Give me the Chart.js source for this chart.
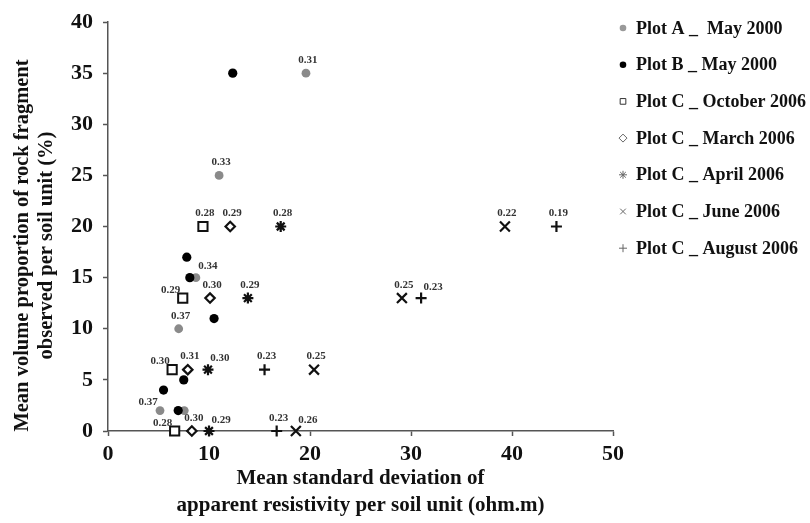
<!DOCTYPE html>
<html>
<head>
<meta charset="utf-8">
<script src="https://cdn.jsdelivr.net/npm/chart.js@4.4.1/dist/chart.umd.min.js"></script>
<style>
  html, body { margin: 0; background: #fff; }
  #wrap { width: 810px; height: 523px; }
</style>
</head>
<body>
<div id="wrap"><canvas id="chart"></canvas></div>
<script>
// ---- data ----
const seriesNames = [
  'Plot A _  May 2000',
  'Plot B _ May 2000',
  'Plot C _ October 2006',
  'Plot C _ March 2006',
  'Plot C _ April 2006',
  'Plot C _ June 2006',
  'Plot C _ August 2006'
];

const xTicks = [0, 10, 20, 30, 40, 50];
const yTicks = [0, 5, 10, 15, 20, 25, 30, 35, 40];
const xTitle = ['Mean standard deviation of', 'apparent resistivity per soil unit (ohm.m)'];
const yTitle = ['Mean volume proportion of rock fragment', 'observed per soil unit (%)'];

const plotA_x = [19.6, 11.0, 8.7, 7.0, 5.15, 7.55];
const plotA_y = [35, 25, 15, 10, 2, 2];
const plotA_labels = ['0.31', '0.33', '0.34', '0.37', '0.37', null];

const plotB_x = [12.35, 7.8, 8.1, 10.5, 7.5, 5.5, 6.95];
const plotB_y = [35, 17, 15, 11, 5, 4, 2];

const octX = [9.4, 7.4, 6.35, 6.6];
const octY = [20, 13, 6, 0];
const octLabels = ['0.28', '0.29', '0.30', '0.28'];

const marX = [12.1, 10.1, 7.9, 8.3];
const marY = [20, 13, 6, 0];
const marLabels = ['0.29', '0.30', '0.31', '0.30'];

const aprX = [17.1, 13.85, 9.9, 10.0];
const aprY = [20, 13, 6, 0];
const aprLabels = ['0.28', '0.29', '0.30', '0.29'];

const junX = [39.3, 29.1, 20.4, 18.6];
const junY = [20, 13, 6, 0];
const junLabels = ['0.22', '0.25', '0.25', '0.26'];

const augX = [44.4, 31.0, 15.5, 16.7];
const augY = [20, 13, 6, 0];
const augLabels = ['0.19', '0.23', '0.23', '0.23'];

// where each value label sits relative to its point
const labelOffsets = { n: [2, -13], nw: [-12, -8], ne: [12, -11] };
const plotA_pos = ['n', 'n', 'ne', 'n', 'nw', null];
const octPos = ['n', 'nw', 'nw', 'nw'];
const marPos = ['n', 'n', 'n', 'n'];
const aprPos = ['n', 'n', 'ne', 'ne'];
const junPos = ['n', 'n', 'n', 'ne'];
const augPos = ['n', 'ne', 'n', 'n'];

const serif = '"Liberation Serif", "Times New Roman", serif';

function pts(xs, ys) {
  return xs.map((x, i) => ({ x: x, y: ys[i] }));
}

const datasets = [
  { label: seriesNames[0], data: pts(plotA_x, plotA_y), pointLabels: plotA_labels, labelPos: plotA_pos,
    pointStyle: 'circle', pointRadius: 4.4, backgroundColor: '#8a8a8a', borderColor: '#8a8a8a', borderWidth: 0,
    order: 5, legendColor: '#999' },
  { label: seriesNames[1], data: pts(plotB_x, plotB_y),
    pointStyle: 'circle', pointRadius: 4.6, backgroundColor: '#000', borderColor: '#000', borderWidth: 0,
    order: 4, legendColor: '#000' },
  { label: seriesNames[2], data: pts(octX, octY), pointLabels: octLabels, labelPos: octPos,
    pointStyle: 'rect', pointRadius: 6.5, backgroundColor: '#fff', borderColor: '#111', borderWidth: 2,
    order: 3, legendColor: '#333' },
  { label: seriesNames[3], data: pts(marX, marY), pointLabels: marLabels, labelPos: marPos,
    pointStyle: 'rectRot', pointRadius: 4.7, backgroundColor: '#fff', borderColor: '#111', borderWidth: 2.2,
    order: 2, legendColor: '#666' },
  { label: seriesNames[4], data: pts(aprX, aprY), pointLabels: aprLabels, labelPos: aprPos,
    pointStyle: 'star', pointRadius: 5.5, backgroundColor: '#111', borderColor: '#111', borderWidth: 2.2,
    order: 1, legendColor: '#666' },
  { label: seriesNames[5], data: pts(junX, junY), pointLabels: junLabels, labelPos: junPos,
    pointStyle: 'crossRot', pointRadius: 7, backgroundColor: '#111', borderColor: '#111', borderWidth: 2.2,
    order: 0, legendColor: '#666' },
  { label: seriesNames[6], data: pts(augX, augY), pointLabels: augLabels, labelPos: augPos,
    pointStyle: 'cross', pointRadius: 5.5, backgroundColor: '#111', borderColor: '#111', borderWidth: 2.2,
    order: 0, legendColor: '#666' }
];
datasets.forEach(d => { d.clip = false; d.showLine = false; });

// value labels, y title and the legend column on the right
const overlay = {
  id: 'overlay',
  afterDatasetsDraw(chart) {
    const ctx = chart.ctx;
    ctx.save();
    ctx.font = 'bold 11px ' + serif;
    ctx.fillStyle = '#333';
    ctx.textAlign = 'center';
    ctx.textBaseline = 'middle';
    chart.data.datasets.forEach((ds, i) => {
      if (!ds.pointLabels) return;
      const meta = chart.getDatasetMeta(i);
      ds.pointLabels.forEach((t, j) => {
        if (!t) return;
        const el = meta.data[j];
        const o = labelOffsets[ds.labelPos[j]];
        ctx.fillText(t, el.x + o[0], el.y + o[1]);
      });
    });

    // y axis title, two centred lines rotated
    ctx.save();
    ctx.fillStyle = '#111';
    ctx.font = 'bold 20.5px ' + serif;
    ctx.translate(0, 245.5);
    ctx.rotate(-Math.PI / 2);
    yTitle.forEach((t, k) => ctx.fillText(t, 0, 23 + k * 24));
    ctx.restore();

    ctx.font = 'bold 18px ' + serif;
    ctx.textAlign = 'left';
    ctx.fillStyle = '#111';
    const drawPoint = Chart.helpers.drawPoint;
    chart.data.datasets.forEach((ds, i) => {
      const y = 28 + i * 36.7;
      ctx.save();
      ctx.fillStyle = ds.pointStyle === 'rect' || ds.pointStyle === 'rectRot' ? '#fff' : ds.legendColor;
      ctx.strokeStyle = ds.legendColor;
      ctx.lineWidth = 1;
      const r = ds.pointStyle === 'circle' ? 3.3 : 4;
      drawPoint(ctx, { pointStyle: ds.pointStyle, radius: r, borderWidth: ds.pointStyle === 'circle' ? 0 : 1, rotation: 0 }, 623, y);
      ctx.restore();
      ctx.fillText(ds.label, 636, y + 1);
    });
    ctx.restore();
  }
};

new Chart(document.getElementById('chart'), {
  type: 'scatter',
  data: { datasets: datasets },
  plugins: [overlay],
  options: {
    responsive: true,
    maintainAspectRatio: false,
    animation: false,
    events: [],
    layout: { padding: { left: 0, right: 197, top: 0, bottom: 0 } },
    plugins: { legend: { display: false }, tooltip: { enabled: false } },
    scales: {
      x: {
        type: 'linear', min: 0, max: 50,
        afterBuildTicks: s => { s.ticks = xTicks.map(v => ({ value: v })); },
        afterFit: s => { s.height = 92; },
        border: { color: '#555', width: 1.5 },
        grid: { drawOnChartArea: false, drawTicks: true, tickLength: 5, color: '#555', tickWidth: 1.5 },
        ticks: { color: '#111', padding: 5, font: { family: serif, size: 22, weight: 'bold' } },
        title: {
          display: true,
          text: xTitle,
          color: '#111',
          font: { family: serif, size: 21, weight: 'bold', lineHeight: 1.33 },
          padding: { top: 0, bottom: 3 }
        }
      },
      y: {
        type: 'linear', min: 0, max: 40,
        afterBuildTicks: s => { s.ticks = yTicks.map(v => ({ value: v })); },
        afterFit: s => { s.width = 108; s.paddingTop = 22; },
        border: { color: '#555', width: 1.5 },
        grid: { drawOnChartArea: false, drawTicks: true, tickLength: 5, color: '#555', tickWidth: 1.5 },
        ticks: { color: '#111', padding: 10, font: { family: serif, size: 22, weight: 'bold' } },
        title: { display: false }
      }
    }
  }
});
</script>
</body>
</html>
